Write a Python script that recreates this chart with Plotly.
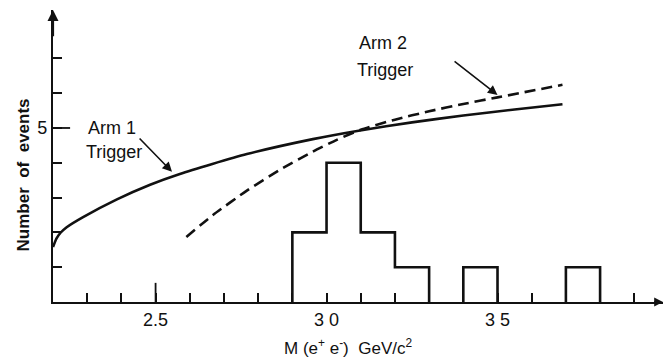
import plotly.graph_objects as go

# Trigger acceptance curves (mass in GeV/c^2, events)
arm1_mass = [2.200, 2.210, 2.222, 2.240, 2.288, 2.387, 2.484, 2.571, 2.767, 2.960,
             3.098, 3.250, 3.400, 3.550, 3.690]
arm1_events = [1.58, 1.82, 1.99, 2.15, 2.44, 2.95, 3.37, 3.68, 4.25, 4.68,
               4.93, 5.16, 5.36, 5.53, 5.68]

arm2_mass = [2.590, 2.668, 2.767, 2.864, 2.960, 3.030, 3.100, 3.200, 3.300, 3.400,
             3.500, 3.690]
arm2_events = [1.87, 2.50, 3.20, 3.80, 4.32, 4.66, 4.95, 5.24, 5.48, 5.69,
               5.88, 6.24]

# Observed e+e- pairs: lower bin edge and count, bins of 0.1 GeV/c^2
bin_low = [2.9, 3.0, 3.1, 3.2, 3.4, 3.7]
bin_count = [2, 4, 2, 1, 1, 1]
bin_width = 0.1

x_tick_vals = [round(2.2 + 0.1 * i, 1) for i in range(1, 18)]
x_tick_labels = {2.5: "2.5", 3.0: "3 0", 3.5: "3 5"}
y_tick_vals = [1, 2, 3, 4, 5, 6, 7]
y_tick_labels = {5: "5"}

X_MIN, X_MAX = 2.2, 3.984
Y_MIN, Y_MAX = 0.0, 8.39

# build the step outline of the histogram, one run per group of adjacent bins
hx, hy = [], []
prev_hi = None
for lo, n in zip(bin_low, bin_count):
    hi = round(lo + bin_width, 3)
    if prev_hi is None or abs(lo - prev_hi) > 1e-9:
        if prev_hi is not None:
            hx += [prev_hi, None]
            hy += [0, None]
        hx.append(lo)
        hy.append(0)
    hx += [lo, hi]
    hy += [n, n]
    prev_hi = hi
hx.append(prev_hi)
hy.append(0)

FONT = "Liberation Sans, Arial, sans-serif"
INK = "#111111"

fig = go.Figure()
fig.add_trace(go.Scatter(x=hx, y=hy, mode="lines", line=dict(color=INK, width=2.6),
                         connectgaps=False, hoverinfo="skip"))
fig.add_trace(go.Scatter(x=arm1_mass, y=arm1_events, mode="lines",
                         line=dict(color=INK, width=2.6, shape="spline", smoothing=0.6)))
fig.add_trace(go.Scatter(x=arm2_mass, y=arm2_events, mode="lines",
                         line=dict(color=INK, width=2.6, dash="11px,6px", shape="spline",
                                   smoothing=0.6)))

annotations = [
    dict(x=2.372, y=5.0, text="Arm 1", showarrow=False, font=dict(size=18)),
    dict(x=2.378, y=4.31, text="Trigger", showarrow=False, font=dict(size=18)),
    dict(x=3.165, y=7.44, text="Arm 2", showarrow=False, font=dict(size=18)),
    dict(x=3.172, y=6.67, text="Trigger", showarrow=False, font=dict(size=18)),
    # pointers from the labels to the curves
    dict(x=2.548, y=3.74, ax=2.449, ay=4.74, axref="x", ayref="y", text="",
         showarrow=True, arrowhead=2, arrowsize=1.2, arrowwidth=1.6, arrowcolor=INK),
    dict(x=3.50, y=5.95, ax=3.37, ay=6.95, axref="x", ayref="y", text="",
         showarrow=True, arrowhead=2, arrowsize=1.2, arrowwidth=1.6, arrowcolor=INK),
    # arrowheads at the ends of the axes
    dict(x=X_MIN, y=Y_MAX, ax=X_MIN, ay=Y_MAX - 0.8, axref="x", ayref="y", text="",
         showarrow=True, arrowhead=2, arrowsize=1.0, arrowwidth=2.2, arrowcolor=INK),
    dict(x=X_MAX, y=0, ax=X_MAX - 0.03, ay=0, axref="x", ayref="y", text="",
         showarrow=True, arrowhead=2, arrowsize=0.8, arrowwidth=2.2, arrowcolor=INK),
    # axis titles
    dict(xref="paper", x=0, xshift=-41, y=3.65, textangle=-90,
         text="<b>Number\u00a0 of\u00a0 events</b>", showarrow=False, font=dict(size=17)),
    dict(x=3.063, yref="paper", y=0, yshift=-45, yanchor="middle",
         text="M (e<sup>+</sup> e<sup>-</sup>)\u00a0 GeV/c<sup>2</sup>", showarrow=False,
         font=dict(size=17)),
]

# longer ticks at the labelled values
shapes = [
    dict(type="line", xref="x", yref="y", x0=2.5, x1=2.5, y0=0, y1=0.55,
         line=dict(color=INK, width=1.8)),
    dict(type="line", xref="x", yref="y", x0=X_MIN, x1=X_MIN + 0.05, y0=5, y1=5,
         line=dict(color=INK, width=1.8)),
]

fig.update_layout(
    width=666, height=357,
    margin=dict(l=53, r=3, t=10, b=55),
    paper_bgcolor="white", plot_bgcolor="white",
    showlegend=False,
    font=dict(family=FONT, color=INK, size=17),
    annotations=annotations,
    shapes=shapes,
    xaxis=dict(range=[X_MIN, X_MAX], showgrid=False, zeroline=False,
               showline=True, linecolor=INK, linewidth=2.2,
               tickmode="array", tickvals=x_tick_vals,
               ticktext=[x_tick_labels.get(v, "") for v in x_tick_vals],
               ticks="inside", ticklen=9, tickwidth=1.6, tickcolor=INK,
               tickfont=dict(size=18)),
    yaxis=dict(range=[Y_MIN, Y_MAX], showgrid=False, zeroline=False,
               showline=True, linecolor=INK, linewidth=2.2,
               tickmode="array", tickvals=y_tick_vals,
               ticktext=[y_tick_labels.get(v, "") for v in y_tick_vals],
               ticks="inside", ticklen=9, tickwidth=1.6, tickcolor=INK,
               tickfont=dict(size=18)),
)

fig.write_html("out.html")
